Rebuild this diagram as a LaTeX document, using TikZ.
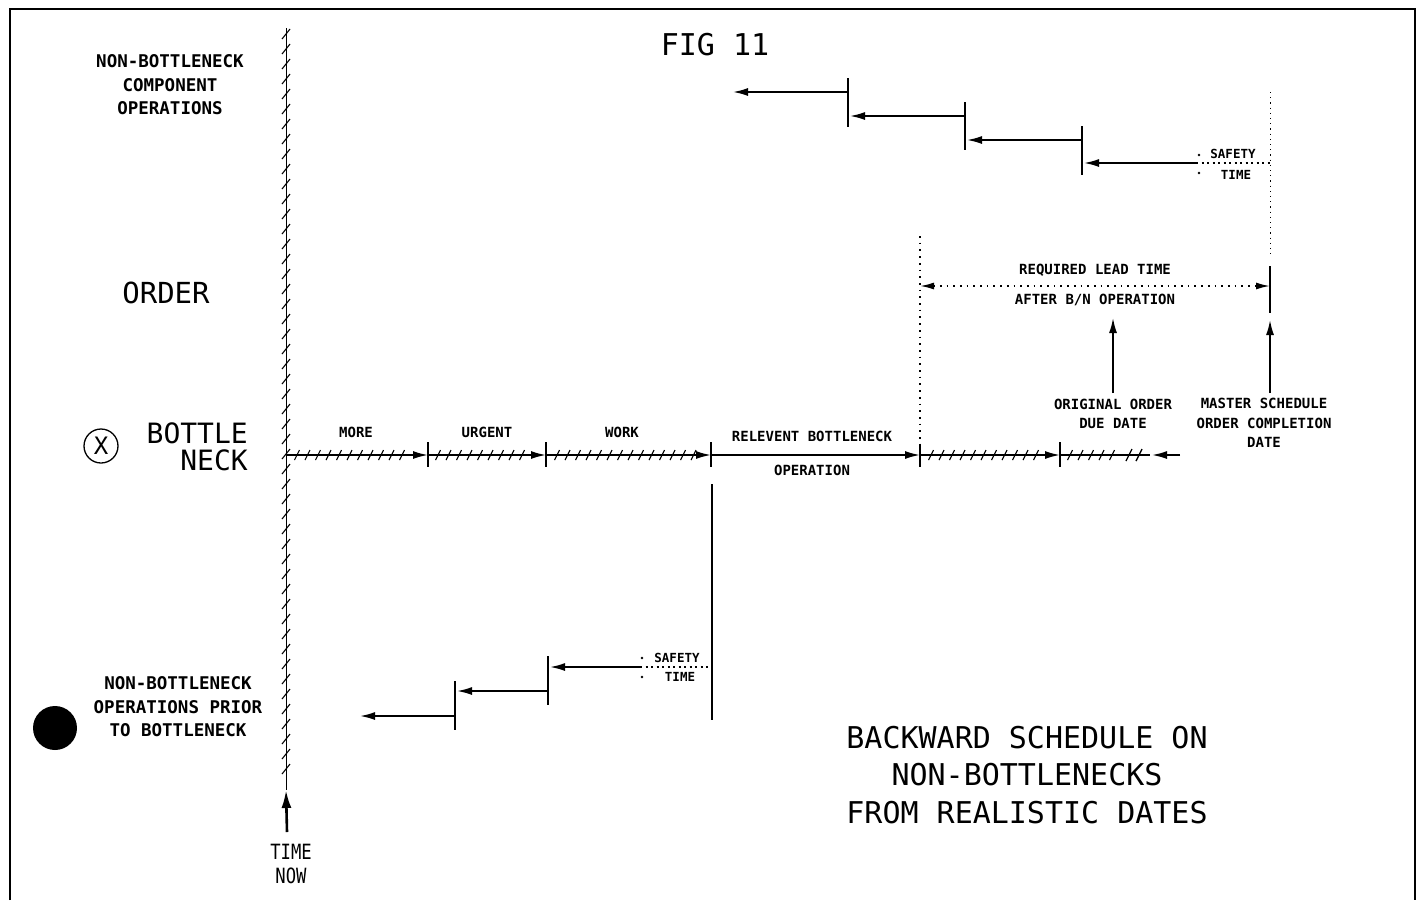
\documentclass[tikz,border=0pt]{standalone}
\usepackage{fontspec}
\newfontfamily\lett{DejaVu Sans Mono}
\usetikzlibrary{arrows.meta,calc}
\begin{document}
\begin{tikzpicture}[x=1pt,y=-1pt,
  ln/.style={line width=1.7pt},
  tk/.style={line width=1.9pt},
  hm/.style={line width=1.1pt},
  arr/.style={ln,-{Latex[length=15pt,width=8pt]}},
  dotln/.style={line width=1.7pt,dash pattern=on 1.7pt off 5pt},
  fine/.style={line width=1pt,dash pattern=on 1.2pt off 4pt},
  big/.style={font=\lett\fontsize{30}{37.5}\selectfont, align=center, inner sep=0pt},
  mid/.style={font=\lett\bfseries\fontsize{17.5}{23.5}\selectfont, align=center, inner sep=0pt},
  sml/.style={font=\lett\bfseries\fontsize{14}{19.5}\selectfont, align=center, inner sep=0pt},
  tiny/.style={font=\lett\bfseries\fontsize{12.5}{15}\selectfont, inner sep=0pt},
]
\useasboundingbox (0,0) rectangle (1420,900);
% frame
\draw[line width=1.5pt] (10,900) -- (10,9) -- (1415,9) -- (1415,900);

% title
\node[big] (fig) at (715,45) {FIG 11};

% left labels
\node[mid] (comp) at (170,85) {NON-BOTTLENECK\\COMPONENT\\OPERATIONS};
\node[font=\lett\fontsize{29}{34}\selectfont, inner sep=0pt] (order) at (166,293) {ORDER};
\node[font=\lett\fontsize{28}{27}\selectfont, align=right, inner sep=0pt, anchor=east] (bn) at (248,447) {BOTTLE\\NECK};
\node[draw, circle, line width=1.3pt, minimum size=34pt, inner sep=0pt, font=\lett\fontsize{24}{24}\selectfont] (xmark) at (101,446) {X};
\node[mid] (prior) at (178,707) {NON-BOTTLENECK\\OPERATIONS PRIOR\\TO BOTTLENECK};
\node[circle, fill=black, minimum size=44pt, inner sep=0pt] (disc) at (55,728) {};

% time now line
\coordinate (tnTop) at (286,28);
\coordinate (tnBot) at (286,790);
\coordinate (tnStart) at (287,832);
\draw[line width=0.5pt] (tnTop) -- (tnBot);
\foreach \y in {34,49,...,780} \draw[hm] (282,\y+5) -- (290,\y-5);
\draw[line width=2.6pt,-{Latex[length=18pt,width=10pt]}] (tnStart) -- (tnBot);
\node[font=\lett\fontsize{21}{24}\selectfont, align=center, inner sep=0pt] (timenow) at (291,864) {\scalebox{0.82}[1]{TIME}\\\scalebox{0.82}[1]{NOW}};

% bottleneck line
\coordinate (b0) at (287,455);
\coordinate (b1) at (428,455);
\coordinate (b2) at (546,455);
\coordinate (b3) at (711,455);
\coordinate (b4) at (920,455);
\coordinate (b5) at (1060,455);
\coordinate (b6) at (1180,455);
\coordinate (b5e) at (1150,455);
\coordinate (b6e) at (1152,455);
\draw[arr] (b0) -- (b1);
\draw[arr] (b1) -- (b2);
\draw[arr] (b2) -- (b3);
\draw[arr] (b3) -- (b4);
\draw[arr] (b4) -- (b5);
\draw[ln] (b5) -- (b5e);
\foreach \x in {297,307.5,...,412, 438,448.5,...,530, 557,567.5,...,695, 931,941.5,...,1045, 1070,1080.5,...,1120}
  \draw[hm] (\x-2.5,460) -- (\x+2.5,450);
\draw[line width=1.3pt] (1126,461) -- (1132,449);
\draw[line width=1.3pt] (1136,461) -- (1142,449);
\draw[arr] (b6) -- (b6e);
\foreach \p in {b1,b2,b3,b5} \draw[tk] ($(\p)+(0,-13)$) -- ($(\p)+(0,12)$);
\draw[tk] ($(b4)+(0,-10)$) -- ($(b4)+(0,12)$);

\node[sml] (more) at (356,432) {MORE};
\node[sml] (urgent) at (487,432) {URGENT};
\node[sml] (work) at (622,432) {WORK};
\node[sml] (rel) at (812,436) {RELEVENT BOTTLENECK};
\node[sml] (opn) at (812,470) {OPERATION};

% lead time
\coordinate (lt0) at (920,236);
\coordinate (ltL) at (920,286);
\coordinate (ltR) at (1270,286);
\draw[dotln] (lt0) -- (b4);
\draw[dotln,{Latex[length=14pt,width=7pt]}-{Latex[length=14pt,width=7pt]}] (ltL) -- (ltR);
\node[sml] (req) at (1095,270) {REQUIRED LEAD TIME};
\node[sml] (after) at (1095,300) {AFTER B/N OPERATION};

% master schedule vertical
\coordinate (m0) at (1270,92);
\coordinate (m1) at (1270,258);
\coordinate (m2) at (1270,266);
\coordinate (m3) at (1270,313);
\draw[fine] (m0) -- (m1);
\draw[line width=2pt] (m2) -- (m3);

% date arrows
\node[sml] (orig) at (1113,414) {ORIGINAL ORDER\\DUE DATE};
\node[sml] (mast) at (1264,423) {MASTER SCHEDULE\\ORDER COMPLETION\\DATE};
\coordinate (origTip) at (1113,318);
\coordinate (mastTip) at (1270,320);
\draw[arr] (1113,393) -- (origTip);
\draw[arr] (1270,393) -- (mastTip);

% top staircase
\coordinate (u1) at (848,92);
\coordinate (u1e) at (733,92);
\coordinate (u2) at (965,116);
\coordinate (u2e) at (850,116);
\coordinate (u3) at (1082,140);
\coordinate (u3e) at (967,140);
\coordinate (u4) at (1196,163);
\coordinate (u4e) at (1084,163);
\draw[arr] (u1) -- (u1e);
\draw[arr] (u2) -- (u2e);
\draw[arr] (u3) -- (u3e);
\draw[arr] (u4) -- (u4e);
\draw[tk] (848,78) -- (848,127);
\draw[tk] (965,102) -- (965,150);
\draw[tk] (1082,126) -- (1082,175);
\draw[line width=1.4pt,dash pattern=on 2pt off 3.5pt] (u4) -- (1270,163);
\fill (1199,155) circle (1.4pt) (1199,173) circle (1.4pt);
\node[tiny] (saf1) at (1233,154) {SAFETY};
\node[tiny] (tim1) at (1236,175) {TIME};

% bottom staircase
\coordinate (d0) at (712,484);
\coordinate (d0e) at (712,720);
\draw[tk] (d0) -- (d0e);
\coordinate (d1) at (640,667);
\coordinate (d1e) at (550,667);
\coordinate (d2) at (548,691);
\coordinate (d2e) at (457,691);
\coordinate (d3) at (455,716);
\coordinate (d3e) at (360,716);
\draw[line width=1.4pt,dash pattern=on 2pt off 3.5pt] (d1) -- (712,667);
\fill (642,658) circle (1.4pt) (642,677) circle (1.4pt);
\node[tiny] (saf2) at (677,658) {SAFETY};
\node[tiny] (tim2) at (680,677) {TIME};
\draw[arr] (d1) -- (d1e);
\draw[arr] (d2) -- (d2e);
\draw[arr] (d3) -- (d3e);
\draw[tk] (548,656) -- (548,705);
\draw[tk] (455,681) -- (455,730);

% bottom right title
\node[big] (bsched) at (1027,775) {BACKWARD SCHEDULE ON\\NON-BOTTLENECKS\\FROM REALISTIC DATES};
\end{tikzpicture}
\end{document}
